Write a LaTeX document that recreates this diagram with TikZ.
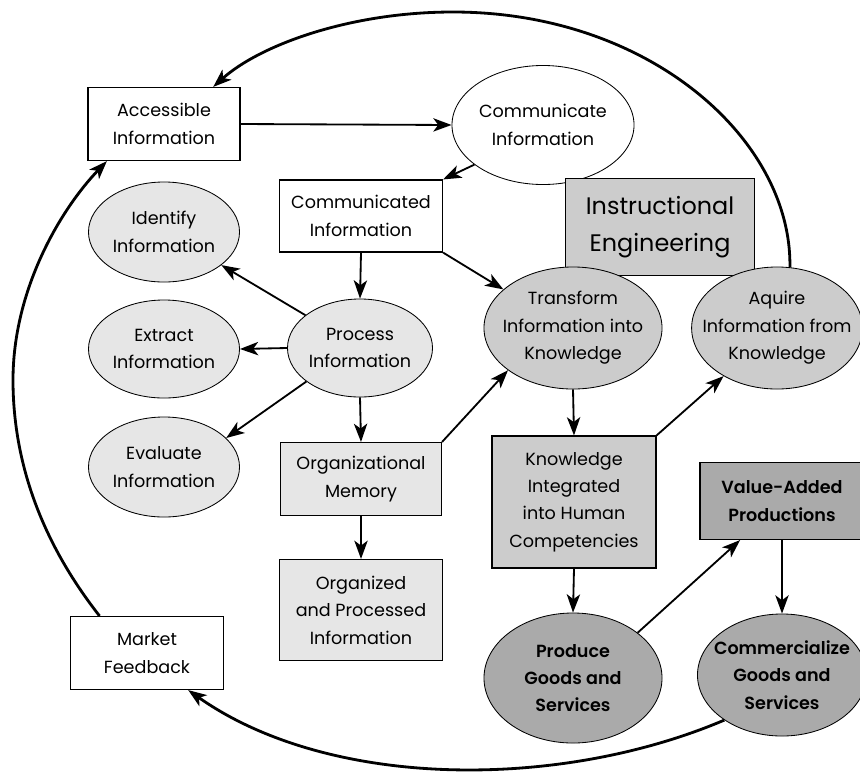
\documentclass[tikz,border=0pt]{standalone}
\usepackage{fontspec}
\setmainfont{Poppins}[BoldFont={Poppins SemiBold}]
\usetikzlibrary{shapes.geometric,arrows.meta}
\definecolor{lightgr}{HTML}{E6E6E6}
\definecolor{midgr}{HTML}{CCCCCC}
\definecolor{darkgr}{HTML}{AAAAAA}

\begin{document}
\begin{tikzpicture}[x=0.025cm,y=-0.025cm,
  >={Stealth[length=13pt,width=9.5pt,inset=3.5pt]},
  every node/.style={font=\fontsize{12.5}{19.5}\selectfont, align=center},
  box/.style={draw, line width=0.8pt, inner sep=0pt},
  oval/.style={draw, ellipse, line width=0.6pt, inner sep=-3.5mm},
  bold/.style={font=\fontsize{12.5}{19.5}\selectfont\bfseries},
  flow/.style={->, line width=1.3pt},
  loopline/.style={->, line width=2pt}]
  \useasboundingbox (0,0) rectangle (860,771);

  % information side
  \node[box, minimum width=3.8cm, minimum height=1.825cm] (acc) at (164,124) {Accessible\\Information};
  \node[oval, minimum width=4.55cm, minimum height=2.975cm] (ci) at (543,125) {Communicate\\Information};
  \node[box, minimum width=4.075cm, minimum height=1.8cm] (cd) at (361,216) {Communicated\\Information};
  \node[box, fill=midgr, minimum width=4.725cm, minimum height=2.425cm,
        font=\fontsize{17}{26}\selectfont] (ie) at (660,227) {Instructional\\Engineering};
  \node[oval, fill=lightgr, minimum width=3.775cm, minimum height=2.5cm] (id) at (164,232) {Identify\\Information};
  \node[oval, fill=lightgr, minimum width=3.775cm, minimum height=2.45cm] (ex) at (164,349) {Extract\\Information};
  \node[oval, fill=lightgr, minimum width=3.775cm, minimum height=2.5cm] (ev) at (164,467) {Evaluate\\Information};
  \node[oval, fill=lightgr, minimum width=3.625cm, minimum height=2.45cm] (pr) at (360,348) {Process\\Information};
  \node[box, fill=lightgr, minimum width=4.025cm, minimum height=1.825cm] (om) at (361,479) {Organizational\\Memory};
  \node[box, fill=lightgr, minimum width=4.075cm, minimum height=2.525cm] (op) at (361,610) {Organized\\and Processed\\Information};
  \node[box, minimum width=3.825cm, minimum height=1.825cm] (mf) at (147,653) {Market\\Feedback};

  % knowledge side
  \node[oval, fill=midgr, minimum width=4.45cm, minimum height=3.05cm] (tr) at (573,328) {Transform\\Information into\\Knowledge};
  \node[oval, fill=midgr, minimum width=4.225cm, minimum height=3.05cm] (aq) at (777,328) {Aquire\\Information from\\Knowledge};
  \node[box, fill=midgr, minimum width=4.1cm, minimum height=3.3cm] (kn) at (574,502) {Knowledge\\Integrated\\into Human\\Competencies};
  \node[box, bold, fill=darkgr, minimum width=4.1cm, minimum height=1.925cm] (va) at (782,501) {Value-Added\\Productions};
  \node[oval, bold, fill=darkgr, minimum width=4.45cm, minimum height=3.25cm] (pg) at (573,678) {Produce\\Goods and\\Services};
  \node[oval, bold, fill=darkgr, minimum width=4.225cm, minimum height=3.05cm] (cg) at (782,675) {Commercialize\\Goods and\\Services};

  \draw[flow] (acc.east) -- (ci.west);
  \draw[flow] (ci.210) -- (cd.north east);
  \draw[flow] (cd.south east) -- (tr.151);
  \draw[flow] (cd.south) -- (pr.north);
  \draw[flow] (pr.149) -- (id.330);
  \draw[flow] (pr.west) -- (ex.east);
  \draw[flow] (pr.212) -- (ev.25);
  \draw[flow] (pr.south) -- (om.north);
  \draw[flow] (om.north east) -- (tr.213);
  \draw[flow] (om.south) -- (op.north);
  \draw[flow] (tr.south) -- (kn.north);
  \draw[flow] (kn.north east) -- (aq.222);
  \draw[flow] (kn.south) -- (pg.north);
  \draw[flow] (pg.35) -- (va.223);
  \draw[flow] (va.south) -- (cg.north);

  % outer cycle
  \draw[loopline] (aq.78) .. controls (792,140) and (650,12) .. (453,12)
    .. controls (350,12) and (260,45) .. (acc.37);
  \draw[loopline] (mf.142) .. controls (40,540) and (13,460) .. (13,380)
    .. controls (13,290) and (60,210) .. (acc.213);
  \draw[loopline] (cg.218) .. controls (560,790) and (330,790) .. (mf.318);
\end{tikzpicture}
\end{document}
